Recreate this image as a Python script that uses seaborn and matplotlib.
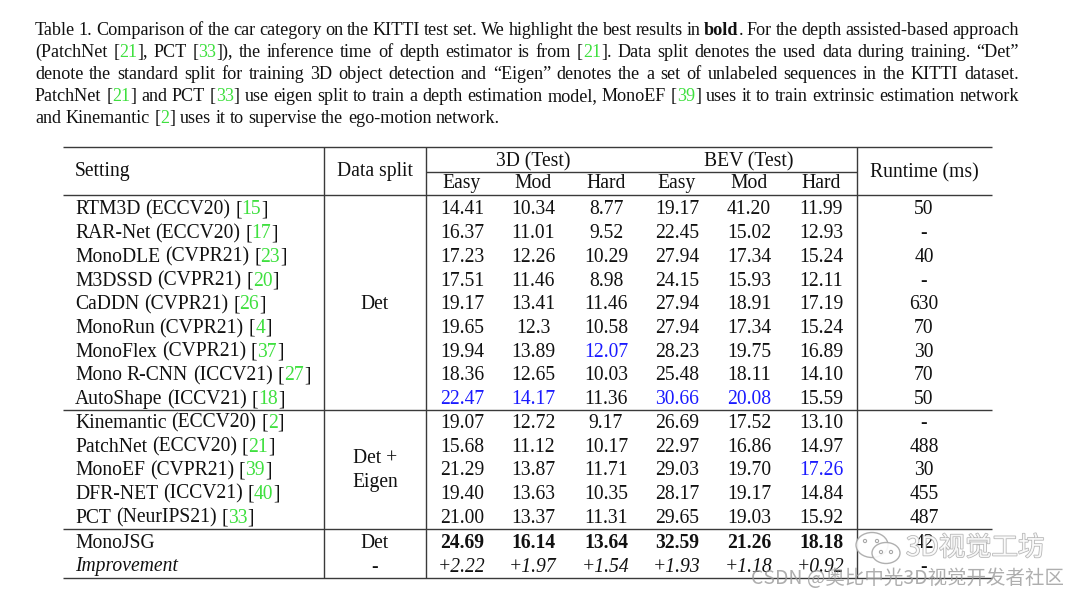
import re
import matplotlib
matplotlib.use('Agg')
import matplotlib.pyplot as plt
import matplotlib.patheffects as pe
from matplotlib.patches import Ellipse, Circle
import seaborn as sns

# Table data
methods = ['RTM3D (ECCV20) [{15}]', 'RAR-Net (ECCV20) [{17}]', 'MonoDLE (CVPR21) [{23}]',
           'M3DSSD (CVPR21) [{20}]', 'CaDDN (CVPR21) [{26}]', 'MonoRun (CVPR21) [{4}]',
           'MonoFlex (CVPR21) [{37}]', 'Mono R-CNN (ICCV21) [{27}]', 'AutoShape (ICCV21) [{18}]',
           'Kinemantic* (ECCV20) [{2}]', 'PatchNet (ECCV20) [{21}]', 'MonoEF (CVPR21) [{39}]',
           'DFR-NET (ICCV21) [{40}]', 'PCT (NeurIPS21) [{33}]']
easy_3d = ['14.41', '16.37', '17.23', '17.51', '19.17', '19.65', '19.94', '18.36', '22.47',
           '19.07', '15.68', '21.29', '19.40', '21.00']
mod_3d = ['10.34', '11.01', '12.26', '11.46', '13.41', '12.3', '13.89', '12.65', '14.17',
          '12.72', '11.12', '13.87', '13.63', '13.37']
hard_3d = ['8.77', '9.52', '10.29', '8.98', '11.46', '10.58', '12.07', '10.03', '11.36',
           '9.17', '10.17', '11.71', '10.35', '11.31']
easy_bev = ['19.17', '22.45', '27.94', '24.15', '27.94', '27.94', '28.23', '25.48', '30.66',
            '26.69', '22.97', '29.03', '28.17', '29.65']
mod_bev = ['41.20', '15.02', '17.34', '15.93', '18.91', '17.34', '19.75', '18.11', '20.08',
           '17.52', '16.86', '19.70', '19.17', '19.03']
hard_bev = ['11.99', '12.93', '15.24', '12.11', '17.19', '15.24', '16.89', '14.10', '15.59',
            '13.10', '14.97', '17.26', '14.84', '15.92']
runtime = ['50', '-', '40', '-', '630', '70', '30', '70', '50', '-', '488', '30', '455', '487']
# second best entries shown in blue: (row, column)
blue_cells = [(6, 2), (8, 0), (8, 1), (8, 3), (8, 4), (11, 5)]

ours_name = 'MonoJSG'
ours = ['24.69', '16.14', '13.64', '32.59', '21.26', '18.18']
ours_runtime = '42'
improvement = ['+2.22', '+1.97', '+1.54', '+1.93', '+1.18', '+0.92']

sub_headers = ['Easy', 'Mod', 'Hard', 'Easy', 'Mod', 'Hard']

caption = [
    'Table 1. Comparison of the car category on the KITTI test set. We highlight the best results in *bold*. For the depth assisted-based approach',
    '(PatchNet [{21}], PCT [{33}]), the inference time of depth estimator is from [{21}]. Data split denotes the used data during training. \u201cDet\u201d',
    'denote the standard split for training 3D object detection and \u201cEigen\u201d denotes the a set of unlabeled sequences in the KITTI dataset.',
    'PatchNet [{21}] and PCT [{33}] use eigen split to train a depth estimation model, MonoEF [{39}] uses it to train extrinsic estimation network',
    'and Kinemantic [{2}] uses it to supervise the ego-motion network.',
]

sns.set_theme(style='white')
plt.rcParams['font.family'] = ['Liberation Serif', 'DejaVu Serif']

GREEN = '#3fe03f'
BLUE = '#1a1aff'
INK = '#111111'
RULE = '#3a3a3a'

fig = plt.figure(figsize=(10.8, 5.98), dpi=100)
ax = fig.add_axes([0, 0, 1, 1])
ax.set_xlim(0, 1080)
ax.set_ylim(598, 0)
ax.axis('off')
renderer = fig.canvas.get_renderer()


def parse_words(markup):
    # split markup into words, each word a list of (text, kind)
    chars = []
    for m in re.finditer(r'\{([^}]*)\}|\*([^*]*)\*|([^{*]+)', markup):
        if m.group(1) is not None:
            chars += [(c, 'g') for c in m.group(1)]
        elif m.group(2) is not None:
            chars += [(c, 'b') for c in m.group(2)]
        else:
            chars += [(c, 'n') for c in m.group(3)]
    words, cur = [], []
    for c, k in chars:
        if c == ' ':
            if cur:
                words.append(cur)
            cur = []
        else:
            cur.append((c, k))
    if cur:
        words.append(cur)
    out = []
    for w in words:
        pieces = []
        for c, k in w:
            if pieces and pieces[-1][1] == k:
                pieces[-1][0] += c
            else:
                pieces.append([c, k])
        out.append(pieces)
    return out


def make_text(s, kind, size):
    color = GREEN if kind == 'g' else INK
    weight = 'bold' if kind == 'b' else 'normal'
    return ax.text(0, 0, s, fontsize=size, color=color, fontweight=weight,
                   ha='left', va='baseline')


def width(t):
    return t.get_window_extent(renderer).width


def draw_line(x, y, markup, size, right=None):
    words = parse_words(markup)
    objs = []
    for w in words:
        objs.append([(make_text(s, k, size)) for s, k in w])
    wws = [sum(width(t) for t in w) for w in objs]
    probe_a = ax.text(0, 0, 'x x', fontsize=size)
    probe_b = ax.text(0, 0, 'xx', fontsize=size)
    space = width(probe_a) - width(probe_b)
    probe_a.remove()
    probe_b.remove()
    if right is not None and len(words) > 1:
        space = (right - x - sum(wws)) / (len(words) - 1)
    cx = x
    for w, ww in zip(objs, wws):
        px = cx
        for t in w:
            t.set_position((px, y))
            px += width(t)
        cx += ww + space


# caption
cap_base = [35, 57, 79, 101, 123]
for i, line in enumerate(caption):
    draw_line(35, cap_base[i], line, 13.1, right=1019 if i < len(caption) - 1 else None)

# rules
left, right_edge = 63, 992
for yy in [147, 195, 410, 529, 578]:
    ax.hlines(yy, left, right_edge, color=RULE, lw=1.0)
ax.hlines(172, 426, 857, color=RULE, lw=1.0)
ax.vlines([324, 426, 857], 147, 578, color=RULE, lw=1.0)

TS = 14.1
col_x = [462, 533, 606, 677, 749, 821]
split_x, run_x, set_x = 375, 924, 75

# header
ax.text(set_x, 176, 'Setting', fontsize=TS, color=INK, ha='left', va='baseline')
ax.text(split_x, 176, 'Data split', fontsize=TS, color=INK, ha='center', va='baseline')
ax.text(533, 166, '3D (Test)', fontsize=TS, color=INK, ha='center', va='baseline')
ax.text(749, 166, 'BEV (Test)', fontsize=TS, color=INK, ha='center', va='baseline')
ax.text(run_x, 177, 'Runtime (ms)', fontsize=TS, color=INK, ha='center', va='baseline')
for cx, lab in zip(col_x, sub_headers):
    ax.text(cx, 188, lab, fontsize=TS, color=INK, ha='center', va='baseline')

# body
columns = [easy_3d, mod_3d, hard_3d, easy_bev, mod_bev, hard_bev]
row_y = [214.5 + 23.7 * i for i in range(len(methods))]
for i, name in enumerate(methods):
    y = row_y[i]
    draw_line(set_x, y, name, TS)
    for j, col in enumerate(columns):
        c = BLUE if (i, j) in blue_cells else INK
        ax.text(col_x[j], y, col[i], fontsize=TS, color=c, ha='center', va='baseline')
    ax.text(run_x, y, runtime[i], fontsize=TS, color=INK, ha='center', va='baseline')

ax.text(split_x, (row_y[0] + row_y[8]) / 2, 'Det', fontsize=TS, color=INK,
        ha='center', va='baseline')
ax.text(split_x, (row_y[9] + row_y[13]) / 2 - 12, 'Det +', fontsize=TS, color=INK,
        ha='center', va='baseline')
ax.text(split_x, (row_y[9] + row_y[13]) / 2 + 12, 'Eigen', fontsize=TS, color=INK,
        ha='center', va='baseline')

y_ours = row_y[-1] + 23.7 + 1.5
y_imp = y_ours + 23.7
ax.text(set_x, y_ours, ours_name, fontsize=TS, color=INK, ha='left', va='baseline')
ax.text(split_x, y_ours, 'Det', fontsize=TS, color=INK, ha='center', va='baseline')
ax.text(set_x, y_imp, 'Improvement', fontsize=TS, color=INK, style='italic',
        ha='left', va='baseline')
ax.text(split_x, y_imp, '-', fontsize=TS, color=INK, ha='center', va='baseline')
for j in range(6):
    ax.text(col_x[j], y_ours, ours[j], fontsize=TS, color=INK, fontweight='bold',
            ha='center', va='baseline')
    ax.text(col_x[j], y_imp, improvement[j], fontsize=TS, color=INK, style='italic',
            ha='center', va='baseline')
ax.text(run_x, y_ours, ours_runtime, fontsize=TS, color=INK, ha='center', va='baseline')
ax.text(run_x, y_imp, '-', fontsize=TS, color=INK, ha='center', va='baseline')

# watermark
wm_gray = '#a8a8a8'
for (cx, cy, w, h) in [(872, 545, 32, 25), (886, 553, 28, 21)]:
    ax.add_patch(Ellipse((cx, cy), w, h, facecolor='white', edgecolor=wm_gray,
                         lw=1.0, alpha=0.9, zorder=5))
for (cx, cy) in [(865, 541), (877, 541), (881, 552), (891, 552)]:
    ax.add_patch(Circle((cx, cy), 1.6, facecolor='white', edgecolor=wm_gray,
                        lw=0.8, zorder=6))
ax.text(906, 548, '3D视觉工坊', fontsize=19, color='white', family=['Noto Sans CJK SC'],
        fontweight='light', ha='left', va='center', alpha=0.85, zorder=7,
        path_effects=[pe.withStroke(linewidth=1.1, foreground=wm_gray)])
ax.text(1064, 579, 'CSDN @奥比中光3D视觉开发者社区', fontsize=14, color='#9a9a9a',
        family=['Noto Sans CJK SC'], ha='right', va='center', alpha=0.8, zorder=7)

fig.savefig('out.png', dpi=100)
